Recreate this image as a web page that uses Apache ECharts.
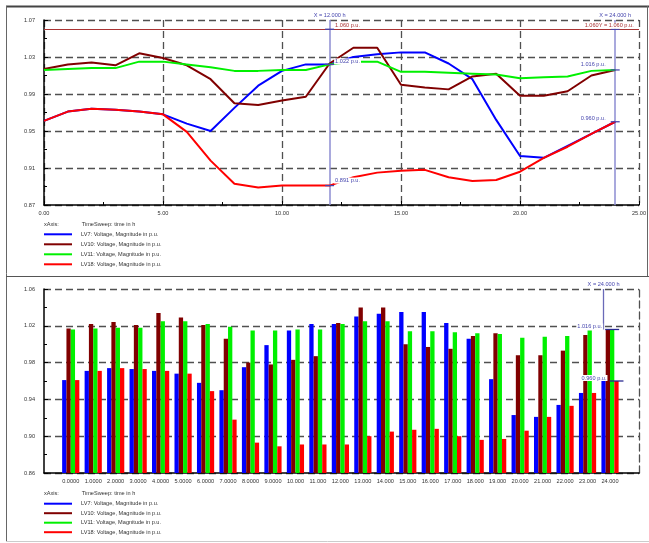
<!DOCTYPE html>
<html>
<head>
<meta charset="utf-8">
<script src="https://cdn.jsdelivr.net/npm/echarts@6/dist/echarts.min.js"></script>
<style>
  html, body { margin: 0; padding: 0; background: #fff; }
  #chart { width: 649px; height: 543px; }
</style>
</head>
<body>
<div id="chart"></div>
<script>
// Time sweep, hours 0..24
const hours = [0, 1, 2, 3, 4, 5, 6, 7, 8, 9, 10, 11, 12, 13, 14, 15, 16, 17, 18, 19, 20, 21, 22, 23, 24];

// Voltage magnitudes (p.u.) per low-voltage node
const lv7  = [0.961, 0.971, 0.974, 0.973, 0.971, 0.968, 0.958, 0.950, 0.975, 0.999, 1.015, 1.022, 1.022,
              1.030, 1.033, 1.035, 1.035, 1.023, 1.006, 0.962, 0.923, 0.921, 0.934, 0.947, 0.960];
const lv10 = [1.017, 1.022, 1.024, 1.021, 1.034, 1.029, 1.021, 1.006, 0.980, 0.978, 0.983, 0.987, 1.023,
              1.040, 1.040, 1.000, 0.997, 0.995, 1.009, 1.012, 0.988, 0.988, 0.993, 1.010, 1.016];
const lv11 = [1.016, 1.017, 1.018, 1.018, 1.025, 1.025, 1.022, 1.019, 1.015, 1.015, 1.016, 1.016, 1.022,
              1.025, 1.025, 1.014, 1.014, 1.013, 1.012, 1.011, 1.007, 1.008, 1.009, 1.015, 1.016];
const lv18 = [0.961, 0.971, 0.974, 0.973, 0.971, 0.968, 0.949, 0.918, 0.893, 0.889, 0.891, 0.891, 0.891,
              0.900, 0.905, 0.907, 0.908, 0.900, 0.896, 0.897, 0.906, 0.921, 0.933, 0.947, 0.960];

const seriesNames = [
  'LV7: Voltage, Magnitude in p.u.',
  'LV10: Voltage, Magnitude in p.u.',
  'LV11: Voltage, Magnitude in p.u.',
  'LV18: Voltage, Magnitude in p.u.'
];
const seriesValues = [lv7, lv10, lv11, lv18];
const seriesColors = ['#0000ff', '#800000', '#00f000', '#ff0000'];

// Upper voltage limit and cursor positions
const limitValue = 1.06;
const cursorHours = [12, 24];

// Axis ranges
const topY = { min: 0.87, max: 1.07, step: 0.04 };
const topX = { min: 0, max: 25, step: 5 };
const botY = { min: 0.86, max: 1.06, step: 0.04 };
const botX = { min: -1.19, max: 25.29 };

const FONT = 'Liberation Sans, Arial, sans-serif';
const FS = 5.6;
const TXT = '#333';
const CURSOR = '#4646ae';
const LIMIT = '#a83232';
const gridLine = { color: '#505050', width: 1.3, type: [7, 4] };

const pu = v => v.toFixed(3) + ' p.u.';
const pairs = vals => hours.map((h, i) => [h, vals[i]]);

const baseLabel = { fontFamily: FONT, fontSize: FS, color: TXT };

function yAxisCfg(grid, r) {
  return {
    type: 'value', gridIndex: grid, min: r.min, max: r.max, interval: r.step,
    axisLine: { show: true, onZero: false, lineStyle: { color: '#000', width: 1.5 } },
    axisTick: { show: true, inside: true, length: 4, lineStyle: { color: '#000' } },
    minorTick: { show: true, splitNumber: 2, length: 3, lineStyle: { color: '#000' } },
    axisLabel: Object.assign({ margin: 9, formatter: v => v.toFixed(2) }, baseLabel),
    splitLine: { show: true, lineStyle: gridLine }
  };
}

// Cursor markers on the time-sweep lines
const topMarkSymbol = { symbol: 'rect', symbolSize: [9, 1.3], itemStyle: { color: CURSOR } };
function cursorPoint(vals, hIdx, side, dy) {
  const h = cursorHours[hIdx];
  const v = vals[hours.indexOf(h)];
  return {
    coord: [h, v], value: v,
    label: { position: side, distance: side === 'left' ? 4 : 0, offset: [0, dy] }
  };
}
const markLabel = Object.assign({
  show: true, color: CURSOR, backgroundColor: '#fff', padding: [0, 1],
  formatter: p => pu(p.value)
}, { fontFamily: FONT, fontSize: FS });

const lineSeries = seriesNames.map((name, i) => ({
  name, type: 'line', xAxisIndex: 0, yAxisIndex: 0,
  data: pairs(seriesValues[i]),
  showSymbol: false, symbol: 'none',
  lineStyle: { color: seriesColors[i], width: 2 },
  itemStyle: { color: seriesColors[i] },
  animation: false, z: 3 + i
}));

// Cursor lines and limit line on the first series
lineSeries[0].markLine = {
  silent: true, symbol: 'none', animation: false, z: 2,
  data: [
    ...cursorHours.map(h => ({
      xAxis: h,
      lineStyle: { color: '#8c8cd2', width: 1.5, type: 'solid' },
      label: Object.assign({ show: true, position: 'end', distance: 2, color: CURSOR,
        formatter: 'X = ' + h.toFixed(3) + ' h' }, { fontFamily: FONT, fontSize: FS })
    })),
    { yAxis: limitValue, lineStyle: { color: LIMIT, width: 1, type: 'solid' }, label: { show: false } }
  ]
};
lineSeries[0].markPoint = Object.assign({
  silent: true, animation: false, z: 10,
  label: Object.assign({}, markLabel, { color: LIMIT }),
  data: [
    { coord: [cursorHours[0], limitValue], value: limitValue,
      label: { position: 'right', distance: 0, offset: [0, -3.5] } },
    { coord: [cursorHours[1], limitValue], value: limitValue,
      label: { position: 'inside', offset: [-6, -3.5],
        formatter: p => p.value.toFixed(3) + 'Y = ' + pu(p.value) } }
  ]
}, topMarkSymbol);
lineSeries[2].markPoint = Object.assign({
  silent: true, animation: false, z: 10, label: markLabel,
  data: [cursorPoint(lv11, 0, 'right', -3), cursorPoint(lv11, 1, 'left', -5)]
}, topMarkSymbol);
lineSeries[3].markPoint = Object.assign({
  silent: true, animation: false, z: 10, label: markLabel,
  data: [cursorPoint(lv18, 0, 'right', -5), cursorPoint(lv18, 1, 'left', -3)]
}, topMarkSymbol);

const barSeries = seriesNames.map((name, i) => ({
  name, type: 'bar', xAxisIndex: 1, yAxisIndex: 1,
  data: pairs(seriesValues[i]),
  barWidth: 4.3, barGap: '0%',
  itemStyle: { color: seriesColors[i] },
  animation: false, z: 3
}));

// Cursor at the last hour on the bar chart
const lastH = cursorHours[1];
const lastIdx = hours.indexOf(lastH);
barSeries[0].markLine = {
  silent: true, symbol: 'none', animation: false, z: 2,
  lineStyle: { color: '#6a6ab8', width: 1.3, type: 'solid' },
  label: Object.assign({ show: true, position: 'start', distance: 2, color: CURSOR,
    formatter: 'X = ' + lastH.toFixed(3) + ' h' }, { fontFamily: FONT, fontSize: FS }),
  data: [[{ coord: [lastH, botY.max] }, { coord: [lastH, lv11[lastIdx]] }]]
};
const botMarkSymbol = { symbol: 'rect', symbolSize: [14, 1.3], itemStyle: { color: '#2a2a90' } };
barSeries[2].markPoint = Object.assign({
  silent: true, animation: false, z: 10, label: markLabel,
  data: [{ coord: [lastH, lv11[lastIdx]], value: lv11[lastIdx],
           label: { position: 'left', distance: 2, offset: [0, -3] } }]
}, botMarkSymbol);
barSeries[3].markPoint = Object.assign({
  silent: true, animation: false, z: 10, label: markLabel,
  data: [{ coord: [lastH, lv18[lastIdx]], value: lv18[lastIdx],
           label: { position: 'left', distance: 2, offset: [0, -3] } }]
}, botMarkSymbol);

function legendCfg(top, gap) {
  return {
    left: 44, top, orient: 'vertical', padding: 0,
    itemWidth: 28, itemHeight: 2, itemGap: gap, icon: 'rect',
    selectedMode: false, data: seriesNames,
    textStyle: { fontFamily: FONT, fontSize: FS, color: TXT, lineHeight: 8, padding: [0, 0, 0, 4] }
  };
}

function axisTitle(y) {
  const st = { fontFamily: FONT, fontSize: FS, fill: TXT, textVerticalAlign: 'middle' };
  return [
    { type: 'text', left: 44, top: y - 4, style: Object.assign({ text: 'xAxis:' }, st) },
    { type: 'text', left: 81.7, top: y - 4, style: Object.assign({ text: 'TimeSweep: time in h' }, st) }
  ];
}

const option = {
  backgroundColor: '#fff',
  animation: false,
  grid: [
    { left: 44, top: 20, width: 595, height: 185 },
    { left: 44, top: 289, width: 595, height: 184 }
  ],
  xAxis: [
    {
      type: 'value', gridIndex: 0, min: topX.min, max: topX.max, interval: topX.step,
      axisLine: { show: true, onZero: false, lineStyle: { color: '#000', width: 1.5 } },
      axisTick: { show: true, inside: true, length: 4, lineStyle: { color: '#000' } },
      minorTick: { show: true, splitNumber: 2, length: 3, lineStyle: { color: '#000' } },
      axisLabel: Object.assign({ margin: 5, formatter: v => v.toFixed(2) }, baseLabel),
      splitLine: { show: true, lineStyle: gridLine }
    },
    {
      type: 'value', gridIndex: 1, min: botX.min, max: botX.max,
      axisLine: { show: true, onZero: false, lineStyle: { color: '#000', width: 1.5 } },
      axisTick: { show: false },
      axisLabel: Object.assign({ margin: 5, customValues: hours,
        formatter: v => Number(v).toPrecision(5) }, baseLabel),
      splitLine: { show: false }
    }
  ],
  yAxis: [
    yAxisCfg(0, topY),
    yAxisCfg(1, botY),
    {
      // dashed right-hand frame of the bar panel
      type: 'value', gridIndex: 1, position: 'right', min: botY.min, max: botY.max,
      axisLine: { show: true, onZero: false, lineStyle: gridLine },
      axisTick: { show: false }, axisLabel: { show: false }, splitLine: { show: false }
    }
  ],
  legend: [legendCfg(230.3, 2), legendCfg(499.7, 1.5)],
  graphic: [
    // panel frames
    { type: 'line', shape: { x1: 6, y1: 6.5, x2: 649, y2: 6.5 }, style: { stroke: '#444', lineWidth: 2 }, silent: true },
    { type: 'line', shape: { x1: 6.5, y1: 6, x2: 6.5, y2: 541 }, style: { stroke: '#666', lineWidth: 1 }, silent: true },
    { type: 'line', shape: { x1: 647.5, y1: 6, x2: 647.5, y2: 276 }, style: { stroke: '#666', lineWidth: 1 }, silent: true },
    { type: 'line', shape: { x1: 6, y1: 276.5, x2: 649, y2: 276.5 }, style: { stroke: '#555', lineWidth: 1.2 }, silent: true },
    { type: 'line', shape: { x1: 6, y1: 541.5, x2: 649, y2: 541.5 }, style: { stroke: '#ccc', lineWidth: 1 }, silent: true },
    ...axisTitle(225.7),
    ...axisTitle(494.3)
  ],
  series: [...lineSeries, ...barSeries]
};

const chart = echarts.init(document.getElementById('chart'), null, { renderer: 'canvas' });
chart.setOption(option);
</script>
</body>
</html>
